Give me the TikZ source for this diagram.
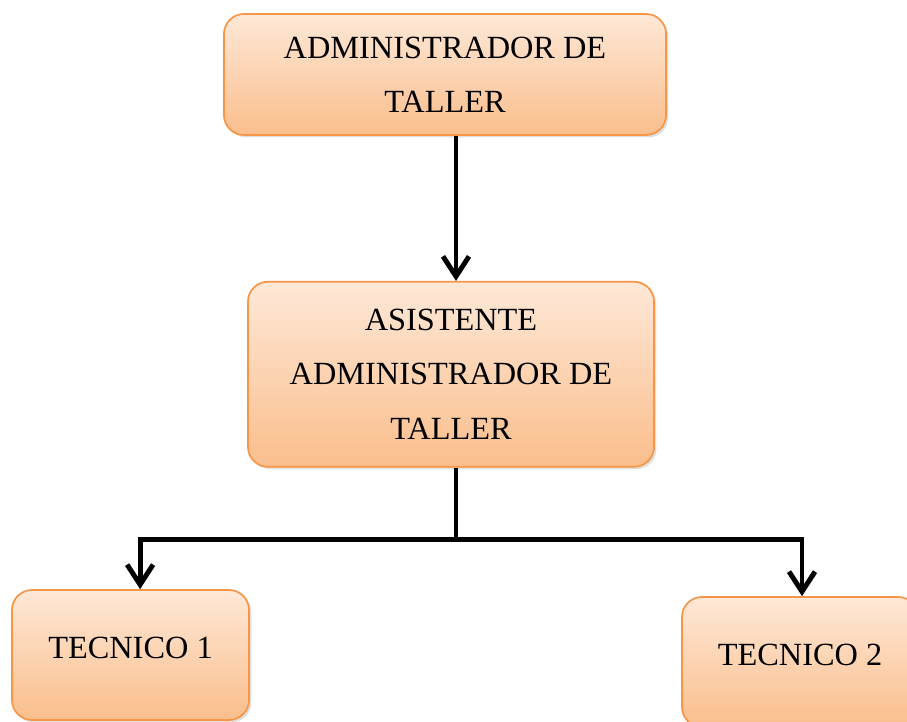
\documentclass[tikz,border=0pt]{standalone}
\usepackage{fontspec}
\setmainfont{Liberation Serif}
\usetikzlibrary{arrows.meta, positioning, shadows}

\definecolor{boxtop}{RGB}{254,232,215}
\definecolor{boxbot}{RGB}{250,190,140}
\definecolor{boxline}{RGB}{247,150,70}

\tikzset{
  orgbox/.style={draw=boxline, line width=1.2pt, rounded corners=0.5cm,
    top color=boxtop, bottom color=boxbot, align=center,
    font=\fontsize{23pt}{38.5pt}\selectfont,
    drop shadow={opacity=0.25, shadow xshift=0.06cm, shadow yshift=-0.06cm}},
  link/.style={line width=3.5pt, -{Straight Barb[length=0.5cm, width=0.65cm]}}
}

\begin{document}
\begin{tikzpicture}[x=0.025cm, y=0.025cm]
  \useasboundingbox (0,0) rectangle (907,-722);

  % jefe
  \node[orgbox, minimum width=11.05cm, minimum height=3.025cm] (admin)
    at (445,-74.5) {ADMINISTRADOR DE\\TALLER};

  % asistente
  \node[orgbox, minimum width=10.15cm, minimum height=4.625cm,
        below=3.625cm of admin.south, anchor=north, xshift=0.15cm] (asist)
    {ASISTENTE\\ADMINISTRADOR DE\\TALLER};

  % tecnicos
  \node[orgbox, minimum width=5.925cm, minimum height=3.25cm,
        text depth=0.35cm] (tec1)
    at (130.5,-655) {TECNICO 1};
  \node[orgbox, minimum width=5.9cm, minimum height=3.25cm,
        text depth=0.35cm] (tec2)
    at (800,-662) {TECNICO 2};

  \draw[link] (admin.south -| asist.north) ++(0.125cm,0) coordinate (top)
    -- (top |- asist.north);
  \draw[line width=3.5pt] (asist.south) ++(0.125cm,0) coordinate (stem)
    -- ++(0,-72) coordinate (split);
  \draw[link] (split) -| ([xshift=0.24cm]tec1.north);
  \draw[link] (split) -| ([xshift=0.05cm]tec2.north);
\end{tikzpicture}
\end{document}
